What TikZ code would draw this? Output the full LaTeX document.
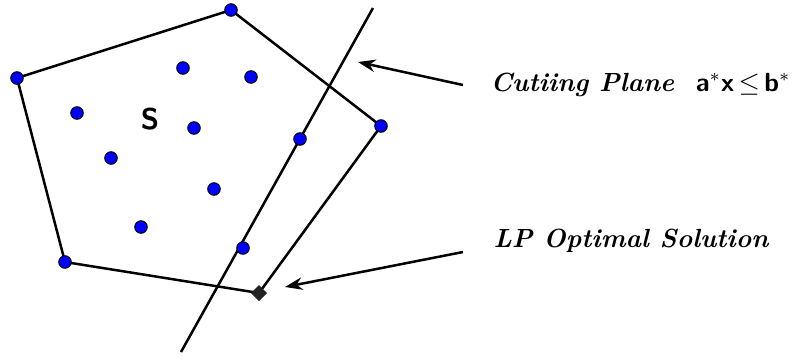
\documentclass[tikz,border=0pt]{standalone}
\usepackage{amsmath}
\usepackage{amssymb}
\usepackage{xcolor}
\usetikzlibrary{arrows.meta,backgrounds,shapes.geometric}
\definecolor{cDot}{RGB}{0,0,255}
\definecolor{cOpt}{RGB}{34,34,34}
\tikzset{
  >={Stealth[length=7pt,width=5pt]},
  pt/.style={draw,circle,fill=cDot,minimum size=5pt,inner sep=0pt,line width=0.4pt},
  opt/.style={draw=cOpt,fill=cOpt,diamond,minimum size=6pt,inner sep=0pt},
  edge/.style={line width=1pt,line join=round},
  pointer/.style={->,line width=1pt},
  lbl/.style={font=\fontsize{10.5}{12}\selectfont\bfseries\itshape,anchor=west,inner sep=0pt},
}
\newcommand{\sfb}[1]{\textsf{\upshape\bfseries #1}}
\begin{document}
\begin{tikzpicture}[x=0.4pt,y=-0.4pt]
  \useasboundingbox (0,0) rectangle (795,361);
  % polygon corners
  \node[pt]  (v1) at (17,78)   {};
  \node[pt]  (v2) at (231,10)  {};
  \node[pt]  (v3) at (381,126) {};
  \node[opt] (v4) at (259,293) {};
  \node[pt]  (v5) at (65,262)  {};
  % integer points inside
  \foreach \n/\p in {p1/{(183,68)},p2/{(251,77)},p3/{(77,113)},p4/{(194,128)},
                     p5/{(111,158)},p6/{(214,189)},p7/{(141,227)},p8/{(300,139)},p9/{(243,248)}}
    \node[pt] (\n) at \p {};
  \node[font=\large\sffamily\bfseries] (S) at (150,119) {S};

  % cut line ends and arrow ends
  \coordinate (c1) at (373,8);
  \coordinate (c2) at (181,352);
  \coordinate (tipA) at (358,62);
  \coordinate (tipB) at (285,287);
  \coordinate (tailA) at (463,85);
  \coordinate (tailB) at (463,252);

  \begin{scope}[on background layer]
    \draw[edge] (v1.center) -- (v2.center) -- (v3.center) -- (v4.center) -- (v5.center) -- cycle;
    \draw[edge] (c1) -- (c2);
  \end{scope}

  \node[lbl] (cutlbl) at (490,85)
    {Cutiing Plane\ \ \sfb{a}$^*$\sfb{x}\,$\leq$\,\sfb{b}$^*$};
  \node[lbl] (optlbl) at (493,241) {LP Optimal Solution};
  \draw[pointer] (tailA) -- (tipA);
  \draw[pointer] (tailB) -- (tipB);
\end{tikzpicture}
\end{document}
